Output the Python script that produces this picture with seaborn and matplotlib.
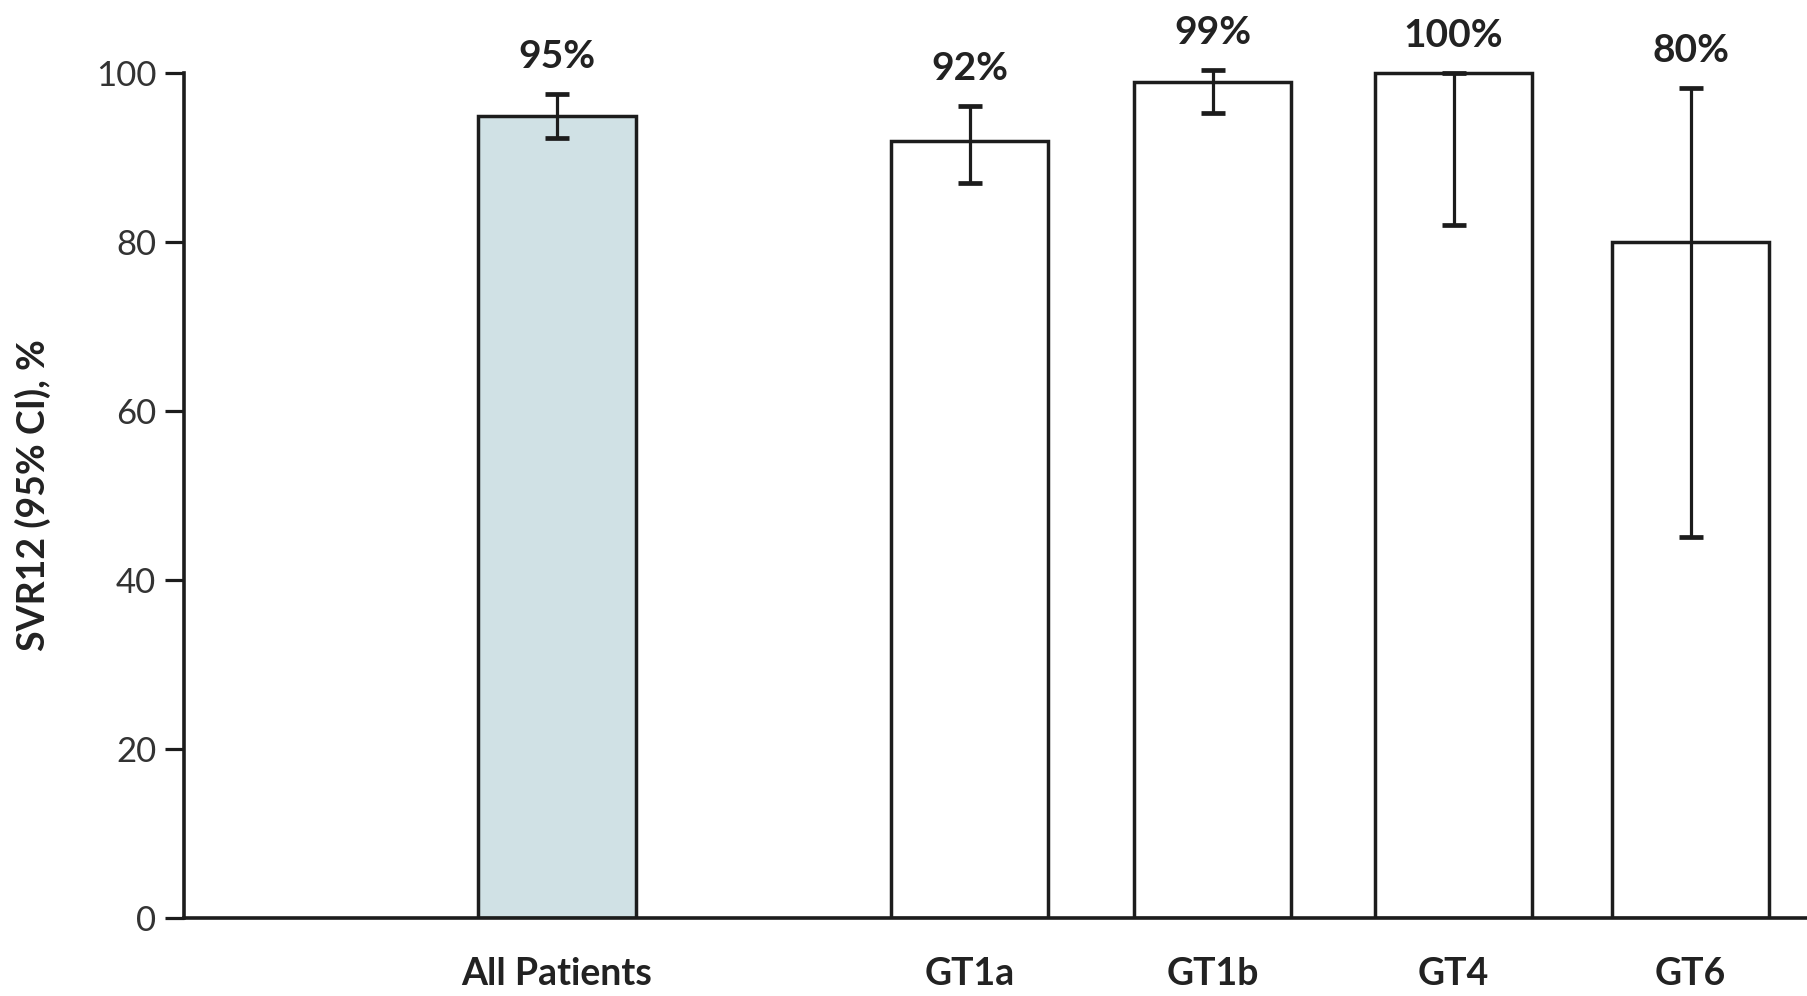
import matplotlib
matplotlib.use("Agg")
import matplotlib.pyplot as plt
import seaborn as sns
import pandas as pd

# SVR12 by population, with 95% confidence intervals
groups = ["All Patients", "GT1a", "GT1b", "GT4", "GT6"]
svr12 = [95, 92, 99, 100, 80]
ci_low = [92.3, 87.0, 95.3, 82.0, 45.1]
ci_high = [97.6, 96.1, 100.4, 100.0, 98.3]
value_labels = ["95%", "92%", "99%", "100%", "80%"]

# horizontal placement of the bars (overall group set apart from genotypes)
x_pos = [0.0, 1.713, 2.722, 3.722, 4.706]
fills = {"All Patients": "#cce3e8", "GT1a": "#ffffff", "GT1b": "#ffffff",
         "GT4": "#ffffff", "GT6": "#ffffff"}

sns.set_theme(style="white")
plt.rcParams["font.family"] = ["Lato", "DejaVu Sans"]

df = pd.DataFrame({"group": groups, "x": x_pos, "svr": svr12})

fig = plt.figure(figsize=(18.07, 9.96), dpi=100)
ax = fig.add_axes([0.1018, 0.0787, 0.8982, 0.9213])

ink = "#1c1c1c"
sns.barplot(data=df, x="x", y="svr", hue="group", palette=fills,
            native_scale=True, width=0.665, errorbar=None, legend=False,
            edgecolor=ink, linewidth=2.5, ax=ax, zorder=2)

lower_err = [v - lo for v, lo in zip(svr12, ci_low)]
upper_err = [hi - v for v, hi in zip(svr12, ci_high)]
ax.errorbar(x_pos, svr12, yerr=[lower_err, upper_err], fmt="none",
            ecolor=ink, elinewidth=2.3, capsize=8.5, capthick=3.4, zorder=3)

for x, hi, txt in zip(x_pos, ci_high, value_labels):
    ax.annotate(txt, xy=(x, hi), xytext=(0, 27), textcoords="offset points",
                ha="center", va="center", fontsize=28, fontweight="bold",
                color="#222222", annotation_clip=False)

ax.set_xlim(-1.548, 5.189)
ax.set_ylim(0, 108.7)
ax.set_yticks([0, 20, 40, 60, 80, 100])
ax.set_xticks(x_pos)
ax.set_xticklabels(groups, fontsize=27, fontweight="bold", color="#222222")

ax.tick_params(axis="y", which="major", left=True, length=14, width=2.3,
               color=ink, labelsize=25, labelcolor="#333333", pad=6,
               direction="out")
ax.tick_params(axis="x", bottom=False, pad=22)

for side in ("top", "right"):
    ax.spines[side].set_visible(False)
ax.spines["left"].set_bounds(0, 100)
for side in ("left", "bottom"):
    ax.spines[side].set_linewidth(2.6)
    ax.spines[side].set_color(ink)

ax.set_xlabel("")
ax.set_ylabel("SVR12 (95% CI), %", fontsize=27, fontweight="bold",
              color="#222222")
ax.yaxis.set_label_coords(-0.082, 0.46)

fig.savefig("out.png", dpi=100, facecolor="white")
